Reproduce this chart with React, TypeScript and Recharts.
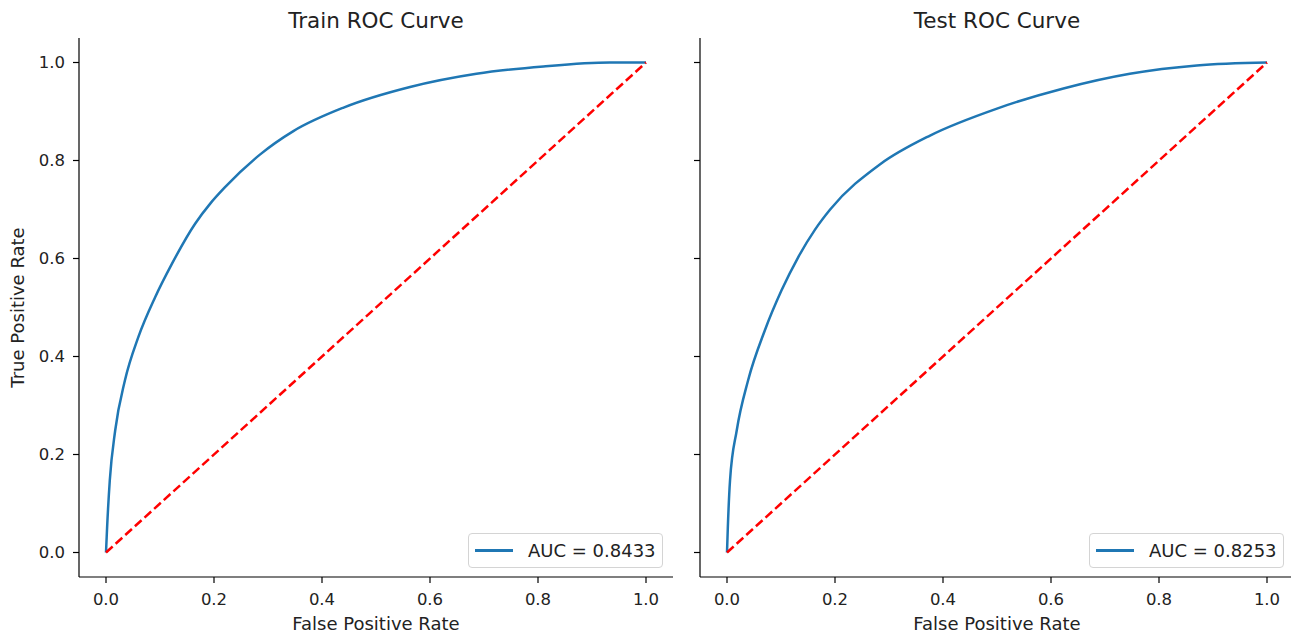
import { FC } from 'react';
import { Legend, Line, LineChart, XAxis, YAxis } from 'recharts';

const trainFpr = [0, 0.002, 0.007, 0.017, 0.035, 0.06, 0.091, 0.122, 0.165, 0.193, 0.22, 0.285, 0.347, 0.44, 0.563, 0.686, 0.81, 0.933, 1.0];
const trainTpr = [0, 0.05, 0.147, 0.249, 0.351, 0.44, 0.521, 0.589, 0.671, 0.712, 0.745, 0.812, 0.86, 0.908, 0.95, 0.977, 0.992, 1.0, 1.0];

const testFpr = [0, 0.0015, 0.0056, 0.018, 0.039, 0.07, 0.101, 0.132, 0.163, 0.191, 0.283, 0.376, 0.5, 0.623, 0.746, 0.87, 1.0];
const testTpr = [0, 0.05, 0.147, 0.249, 0.351, 0.453, 0.535, 0.603, 0.659, 0.7, 0.792, 0.851, 0.906, 0.947, 0.977, 0.994, 1.0];

const chanceFpr = [0, 1];
const chanceTpr = [0, 1];

const axisTicks = [0, 0.2, 0.4, 0.6, 0.8, 1.0];
const trainAuc = 0.8433;
const testAuc = 0.8253;

const toPoints = (xs: number[], ys: number[]) => xs.map((fpr, i) => ({ fpr, tpr: ys[i] }));

const FONT = 'DejaVu Sans, sans-serif';
const TEXT = '#222';
const BLUE = '#1f77b4';

interface RocPanelProps {
  title: string;
  fpr: number[];
  tpr: number[];
  auc: number;
  left: number;
  width: number;
  axisWidth: number;
  showYLabels: boolean;
}

const RocPanel: FC<RocPanelProps> = ({ title, fpr, tpr, auc, left, width, axisWidth, showYLabels }) => {
  const curve = toPoints(fpr, tpr);
  const chance = toPoints(chanceFpr, chanceTpr);
  const marginRight = 17;
  const plotWidth = width - axisWidth - marginRight;
  const legendWidth = 195;

  return (
    <div style={{ position: 'absolute', left, top: 0, width, height: 635 }}>
      <div
        style={{
          position: 'absolute',
          left: axisWidth,
          top: 10,
          width: plotWidth,
          textAlign: 'center',
          fontFamily: FONT,
          fontSize: 21.5,
          lineHeight: 1,
          color: TEXT,
        }}
      >
        {title}
      </div>
      <LineChart width={width} height={635} margin={{ top: 38, right: marginRight, bottom: 0, left: 0 }}>
        <XAxis
          type="number"
          dataKey="fpr"
          domain={[-0.05, 1.05]}
          ticks={axisTicks}
          allowDataOverflow
          height={58}
          stroke="#000"
          strokeWidth={1.2}
          tickSize={6}
          tickMargin={10}
          tickFormatter={(v: number) => v.toFixed(1)}
          tick={{ fontSize: 16.5, fill: TEXT, fontFamily: FONT }}
          label={{ value: 'False Positive Rate', position: 'insideBottom', offset: 5, fontSize: 18, fill: TEXT, fontFamily: FONT }}
        />
        <YAxis
          type="number"
          dataKey="tpr"
          domain={[-0.05, 1.05]}
          ticks={axisTicks}
          allowDataOverflow
          width={axisWidth}
          stroke="#000"
          strokeWidth={1.2}
          tickSize={6}
          tickMargin={8}
          tickFormatter={(v: number) => (showYLabels ? v.toFixed(1) : '')}
          tick={{ fontSize: 16.5, fill: TEXT, fontFamily: FONT }}
          label={
            showYLabels
              ? { value: 'True Positive Rate', angle: -90, position: 'insideLeft', offset: 18, fontSize: 18, fill: TEXT, fontFamily: FONT, style: { textAnchor: 'middle' } }
              : undefined
          }
        />
        <Line
          data={curve}
          dataKey="tpr"
          name={`AUC = ${auc.toFixed(4)}`}
          type="monotone"
          stroke={BLUE}
          strokeWidth={2.5}
          dot={false}
          activeDot={false}
          isAnimationActive={false}
        />
        <Line
          data={chance}
          dataKey="tpr"
          name="chance"
          type="linear"
          stroke="#ff0000"
          strokeWidth={2.5}
          strokeDasharray="9 4"
          dot={false}
          activeDot={false}
          legendType="none"
          isAnimationActive={false}
        />
        <Legend
          layout="horizontal"
          align="center"
          verticalAlign="middle"
          wrapperStyle={{ left: width - 27 - legendWidth, top: 533, width: legendWidth, height: 35 }}
          content={() => (
            <div
              style={{
                display: 'flex',
                alignItems: 'center',
                width: legendWidth,
                height: 35,
                boxSizing: 'border-box',
                paddingLeft: 6,
                border: '1px solid #d4d4d4',
                borderRadius: 4,
                background: 'rgba(255,255,255,0.8)',
                fontFamily: FONT,
                fontSize: 18,
                color: TEXT,
              }}
            >
              <div style={{ width: 38, height: 2.5, background: BLUE, marginRight: 15 }} />
              <span>{`AUC = ${auc.toFixed(4)}`}</span>
            </div>
          )}
        />
      </LineChart>
    </div>
  );
};

const App: FC = () => (
  <div style={{ position: 'absolute', left: 0, top: 0, width: 1291, height: 635, overflow: 'hidden', background: '#fff' }}>
    <RocPanel title="Train ROC Curve" fpr={trainFpr} tpr={trainTpr} auc={trainAuc} left={0} width={690} axisWidth={79} showYLabels />
    <RocPanel title="Test ROC Curve" fpr={testFpr} tpr={testTpr} auc={testAuc} left={690} width={621} axisWidth={10} showYLabels={false} />
  </div>
);

export default App;
